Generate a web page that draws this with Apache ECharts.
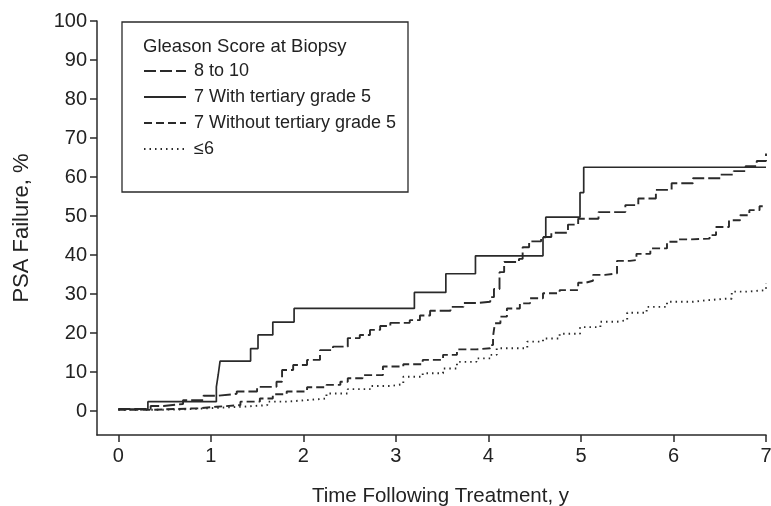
<!DOCTYPE html>
<html>
<head>
<meta charset="utf-8">
<script src="https://cdn.jsdelivr.net/npm/echarts@6/dist/echarts.min.js"></script>
<style>html,body{margin:0;padding:0;background:#fff;}#c{width:771px;height:506px;}</style>
</head>
<body>
<div id="c"></div>
<script>
var xTicks = [0, 1, 2, 3, 4, 5, 6, 7];
var yTicks = [0, 10, 20, 30, 40, 50, 60, 70, 80, 90, 100];
var legendTitle = 'Gleason Score at Biopsy';
var seriesNames = ['8 to 10', '7 With tertiary grade 5', '7 Without tertiary grade 5', '\u22646'];

// Gleason 8 to 10
var tHigh = [0, 0.35, 0.49, 0.70, 0.92, 1.07, 1.28, 1.50, 1.71, 1.77, 1.89, 2.04, 2.18, 2.32, 2.48, 2.61, 2.72, 2.83, 2.94, 3.15, 3.26, 3.37, 3.59, 3.73, 3.87, 4.02, 4.06, 4.12, 4.17, 4.33, 4.37, 4.44, 4.57, 4.68, 4.86, 4.97, 5.19, 5.48, 5.62, 5.81, 5.98, 6.21, 6.51, 6.65, 6.78, 6.90, 7.0];
var pHigh = [0.5, 1.3, 1.8, 2.8, 3.9, 4.4, 5.0, 6.2, 7.5, 10.5, 11.8, 13.1, 15.6, 16.5, 18.7, 19.5, 20.8, 21.8, 22.6, 23.3, 24.5, 25.7, 26.7, 27.7, 28.0, 29.2, 31.3, 35.6, 38.2, 39.0, 42.0, 43.5, 44.6, 45.7, 47.8, 49.3, 51.0, 52.8, 54.5, 56.7, 58.4, 59.7, 60.6, 61.5, 62.8, 64.1, 66.0];

// Gleason 7 with tertiary grade 5
var tTert = [0, 0.32, 1.06, 1.08, 1.10, 1.43, 1.51, 1.67, 1.90, 3.20, 3.54, 3.86, 4.59, 4.62, 4.99, 5.03, 7.0];
var pTert = [0.5, 2.4, 6.2, 9.3, 12.8, 16.0, 19.5, 22.8, 26.3, 30.4, 35.2, 39.8, 44.5, 49.7, 56.0, 62.5, 62.5];

// Gleason 7 without tertiary grade 5
var tNoTert = [0, 0.35, 0.60, 0.88, 1.06, 1.32, 1.53, 1.67, 1.82, 2.04, 2.25, 2.40, 2.48, 2.64, 2.86, 3.08, 3.29, 3.51, 3.66, 3.87, 4.02, 4.05, 4.07, 4.13, 4.20, 4.34, 4.45, 4.59, 4.77, 4.97, 5.05, 5.13, 5.26, 5.39, 5.53, 5.60, 5.75, 5.93, 6.05, 6.17, 6.39, 6.46, 6.60, 6.72, 6.82, 6.93, 7.0];
var pNoTert = [0.3, 0.5, 0.7, 1.1, 1.5, 2.4, 3.2, 4.3, 5.0, 6.1, 6.7, 7.5, 8.4, 9.2, 11.4, 12.0, 13.1, 14.4, 15.8, 16.1, 16.9, 19.1, 22.5, 24.2, 26.3, 27.6, 28.9, 30.2, 31.0, 32.9, 33.4, 34.9, 35.3, 38.5, 38.7, 40.3, 41.7, 43.4, 44.0, 44.2, 45.1, 47.2, 48.9, 50.2, 51.5, 52.5, 52.7];

// Gleason <= 6
var tLow = [0, 0.35, 0.70, 1.06, 1.35, 1.61, 1.82, 2.04, 2.25, 2.48, 2.72, 2.94, 3.08, 3.29, 3.51, 3.66, 3.87, 4.02, 4.09, 4.31, 4.42, 4.59, 4.77, 4.99, 5.21, 5.39, 5.50, 5.71, 5.93, 6.21, 6.32, 6.56, 6.63, 6.79, 7.0];
var pLow = [0.3, 0.4, 0.8, 1.1, 1.5, 2.4, 2.8, 3.2, 4.5, 5.6, 6.4, 6.9, 8.8, 9.7, 10.9, 12.6, 13.5, 14.4, 16.1, 16.1, 17.8, 18.6, 19.8, 21.5, 22.9, 23.3, 25.2, 26.7, 28.0, 28.3, 28.8, 28.8, 30.6, 31.0, 32.8];

function pairs(t, p) { return t.map(function (v, i) { return [v, p[i]]; }); }

var ink = '#2a2a2a';
var font = 'Liberation Sans, Arial, Helvetica, sans-serif';

var chart = echarts.init(document.getElementById('c'), null, { renderer: 'canvas' });

function mk(name, t, p, type, width) {
  return {
    name: name, type: 'line', step: 'end', symbol: 'none', silent: true,
    data: pairs(t, p),
    lineStyle: { color: ink, width: width, type: type },
    itemStyle: { color: ink }
  };
}

chart.setOption({
  animation: false,
  backgroundColor: '#fff',
  grid: { left: 97, right: 5, top: 21, bottom: 71, containLabel: false, outerBoundsMode: 'none' },
  xAxis: {
    type: 'value', min: -0.23, max: 7,
    name: 'Time Following Treatment, y', nameLocation: 'middle', nameGap: 51,
    nameTextStyle: { fontFamily: font, fontSize: 20.5, color: '#222', padding: [0, 0, 0, 18] },
    splitLine: { show: false },
    axisLine: { show: true, onZero: false, lineStyle: { color: ink, width: 1.5 } },
    axisTick: { show: true, length: 7, customValues: xTicks, lineStyle: { color: ink, width: 1.5 } },
    axisLabel: { customValues: xTicks, margin: 11, fontFamily: font, fontSize: 20, color: '#222' }
  },
  yAxis: {
    type: 'value', min: -6.15, max: 100,
    name: 'PSA Failure, %', nameLocation: 'middle', nameGap: 64, nameRotate: 90,
    nameTextStyle: { fontFamily: font, fontSize: 22, color: '#222' },
    splitLine: { show: false },
    axisLine: { show: true, onZero: false, lineStyle: { color: ink, width: 1.5 } },
    axisTick: { show: true, length: 7, customValues: yTicks, lineStyle: { color: ink, width: 1.5 } },
    axisLabel: { customValues: yTicks, margin: 10, fontFamily: font, fontSize: 20, color: '#222' }
  },
  legend: {
    orient: 'vertical', left: 143, top: 61, padding: 0, itemWidth: 42, itemHeight: 14, itemGap: 6,
    selectedMode: false,
    itemStyle: { opacity: 0 },
    textStyle: { fontFamily: font, fontSize: 18, color: '#222', lineHeight: 20, padding: [0, 0, 0, 3] },
    data: seriesNames
  },
  graphic: [
    { type: 'rect', shape: { x: 122, y: 22, width: 286, height: 170 }, style: { fill: 'none', stroke: ink, lineWidth: 1.3 }, z: 10 },
    { type: 'text', x: 143, y: 47, style: { text: legendTitle, fontFamily: font, fontSize: 18.5, fill: '#222', verticalAlign: 'middle' }, z: 10 }
  ],
  series: [
    mk(seriesNames[0], tHigh, pHigh, [12, 4], 1.9),
    mk(seriesNames[1], tTert, pTert, 'solid', 1.7),
    mk(seriesNames[2], tNoTert, pNoTert, [8, 4], 1.9),
    mk(seriesNames[3], tLow, pLow, [1.5, 4], 1.9)
  ]
});
</script>
</body>
</html>
